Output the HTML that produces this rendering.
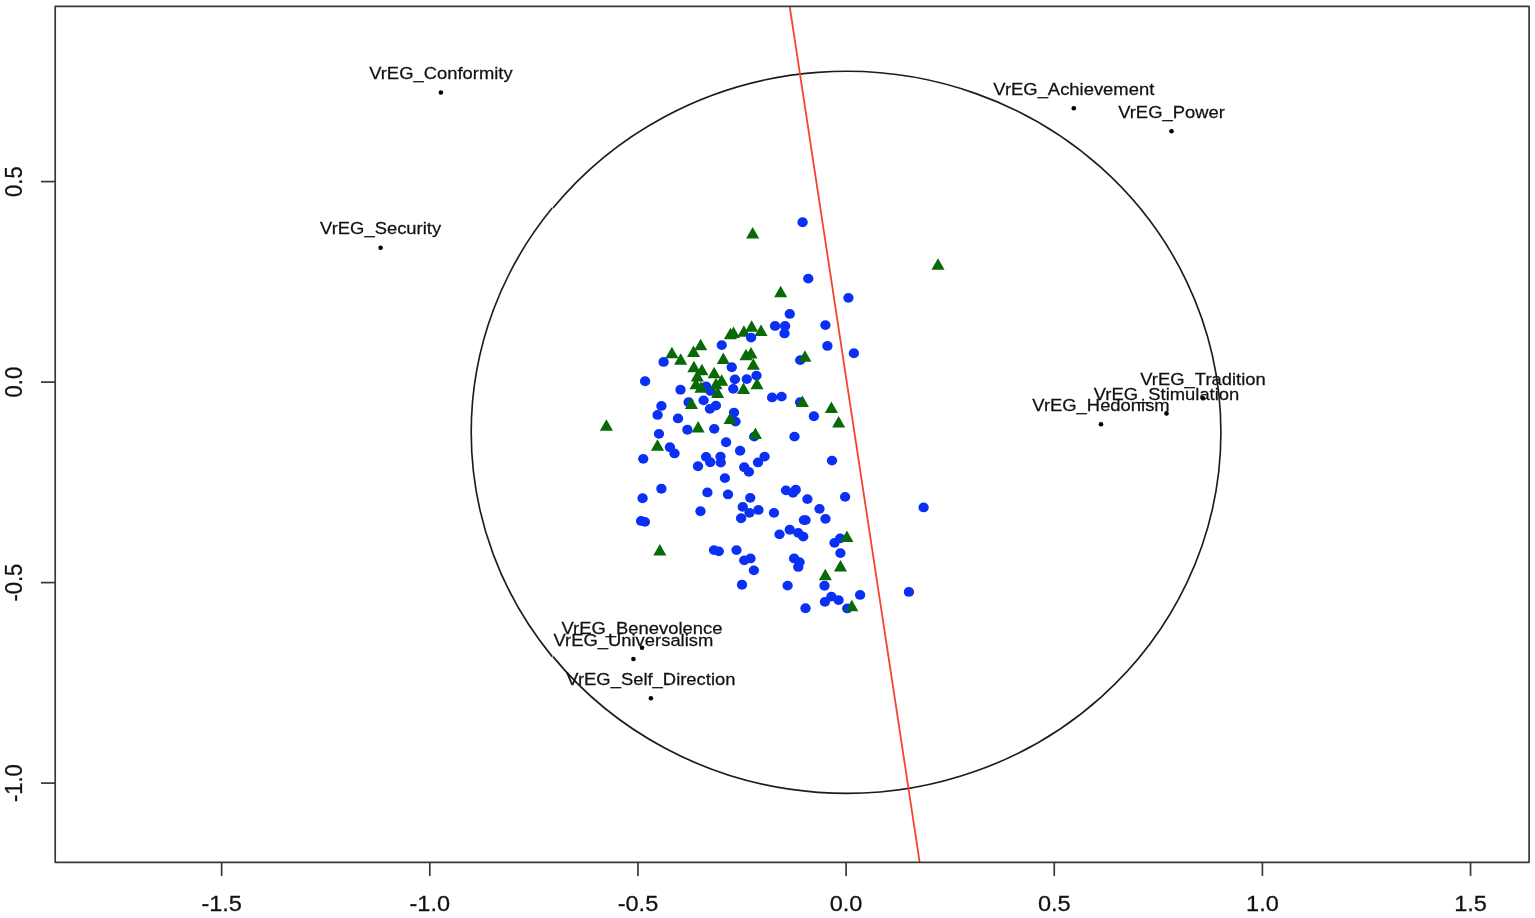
<!DOCTYPE html>
<html lang="en"><head><meta charset="utf-8"><title>Plot</title>
<style>html,body{margin:0;padding:0;background:#fff}svg{display:block}text{font-family:"Liberation Sans",Arial,Helvetica,sans-serif;fill:#111;stroke:#111;stroke-width:.25px}</style></head><body>
<svg width="1535" height="918" viewBox="0 0 1535 918">
<rect x="0" y="0" width="1535" height="918" fill="#fff"/>
<path d="M553 208.09A374.45 361.05 0 1 1 553 656.61" fill="none" stroke="#1c1c1c" stroke-width="1.65"/>
<path d="M552.2 656.61A374.45 361.05 0 0 1 552.2 208.09" fill="none" stroke="#1c1c1c" stroke-width="1.65"/>
<line x1="789.7" y1="6.3" x2="919.7" y2="862.3" stroke="#f4442e" stroke-width="1.8"/>
<g fill="#0a30f6">
<ellipse cx="802.6" cy="222.25" rx="5.15" ry="4.9"/>
<ellipse cx="808.25" cy="278.6" rx="5.15" ry="4.9"/>
<ellipse cx="848.4" cy="297.85" rx="5.15" ry="4.9"/>
<ellipse cx="789.75" cy="313.95000000000005" rx="5.15" ry="4.9"/>
<ellipse cx="775.1" cy="325.95000000000005" rx="5.15" ry="4.9"/>
<ellipse cx="721.75" cy="345.1" rx="5.15" ry="4.9"/>
<ellipse cx="663.6" cy="361.95000000000005" rx="5.15" ry="4.9"/>
<ellipse cx="731.75" cy="367.25" rx="5.15" ry="4.9"/>
<ellipse cx="645.1" cy="381.25" rx="5.15" ry="4.9"/>
<ellipse cx="734.9" cy="379.35" rx="5.15" ry="4.9"/>
<ellipse cx="746.75" cy="379.1" rx="5.15" ry="4.9"/>
<ellipse cx="756.5" cy="375.6" rx="5.15" ry="4.9"/>
<ellipse cx="733.25" cy="388.85" rx="5.15" ry="4.9"/>
<ellipse cx="680.5" cy="389.75" rx="5.15" ry="4.9"/>
<ellipse cx="706.1" cy="386.35" rx="5.15" ry="4.9"/>
<ellipse cx="710.5" cy="390.95000000000005" rx="5.15" ry="4.9"/>
<ellipse cx="703.6" cy="400.35" rx="5.15" ry="4.9"/>
<ellipse cx="688.6" cy="402.25" rx="5.15" ry="4.9"/>
<ellipse cx="715.9" cy="405.6" rx="5.15" ry="4.9"/>
<ellipse cx="709.9" cy="408.85" rx="5.15" ry="4.9"/>
<ellipse cx="661.4" cy="405.95000000000005" rx="5.15" ry="4.9"/>
<ellipse cx="657.6" cy="414.95000000000005" rx="5.15" ry="4.9"/>
<ellipse cx="678.0" cy="418.45000000000005" rx="5.15" ry="4.9"/>
<ellipse cx="734.0" cy="412.6" rx="5.15" ry="4.9"/>
<ellipse cx="735.5" cy="421.6" rx="5.15" ry="4.9"/>
<ellipse cx="772.1" cy="397.45000000000005" rx="5.15" ry="4.9"/>
<ellipse cx="687.4" cy="429.75" rx="5.15" ry="4.9"/>
<ellipse cx="714.25" cy="428.85" rx="5.15" ry="4.9"/>
<ellipse cx="659.0" cy="433.85" rx="5.15" ry="4.9"/>
<ellipse cx="785.1" cy="325.95000000000005" rx="5.15" ry="4.9"/>
<ellipse cx="784.5" cy="333.45000000000005" rx="5.15" ry="4.9"/>
<ellipse cx="825.4" cy="325.1" rx="5.15" ry="4.9"/>
<ellipse cx="827.4" cy="345.95000000000005" rx="5.15" ry="4.9"/>
<ellipse cx="853.9" cy="353.25" rx="5.15" ry="4.9"/>
<ellipse cx="800.2" cy="360.15000000000003" rx="5.15" ry="4.9"/>
<ellipse cx="781.6" cy="396.6" rx="5.15" ry="4.9"/>
<ellipse cx="800.1" cy="402.25" rx="5.15" ry="4.9"/>
<ellipse cx="813.9" cy="416.25" rx="5.15" ry="4.9"/>
<ellipse cx="754.25" cy="436.6" rx="5.15" ry="4.9"/>
<ellipse cx="726.1" cy="442.25" rx="5.15" ry="4.9"/>
<ellipse cx="669.9" cy="447.25" rx="5.15" ry="4.9"/>
<ellipse cx="674.5" cy="453.45000000000005" rx="5.15" ry="4.9"/>
<ellipse cx="740.1" cy="450.75" rx="5.15" ry="4.9"/>
<ellipse cx="643.25" cy="458.85" rx="5.15" ry="4.9"/>
<ellipse cx="706.1" cy="456.85" rx="5.15" ry="4.9"/>
<ellipse cx="710.25" cy="462.25" rx="5.15" ry="4.9"/>
<ellipse cx="720.5" cy="456.6" rx="5.15" ry="4.9"/>
<ellipse cx="720.75" cy="462.6" rx="5.15" ry="4.9"/>
<ellipse cx="698.0" cy="466.25" rx="5.15" ry="4.9"/>
<ellipse cx="764.6" cy="456.6" rx="5.15" ry="4.9"/>
<ellipse cx="758.0" cy="462.45000000000005" rx="5.15" ry="4.9"/>
<ellipse cx="744.25" cy="467.25" rx="5.15" ry="4.9"/>
<ellipse cx="748.9" cy="471.85" rx="5.15" ry="4.9"/>
<ellipse cx="724.9" cy="478.1" rx="5.15" ry="4.9"/>
<ellipse cx="661.4" cy="488.75" rx="5.15" ry="4.9"/>
<ellipse cx="642.6" cy="498.25" rx="5.15" ry="4.9"/>
<ellipse cx="707.4" cy="492.45000000000005" rx="5.15" ry="4.9"/>
<ellipse cx="728.0" cy="494.45000000000005" rx="5.15" ry="4.9"/>
<ellipse cx="750.25" cy="497.85" rx="5.15" ry="4.9"/>
<ellipse cx="742.75" cy="506.85" rx="5.15" ry="4.9"/>
<ellipse cx="749.5" cy="512.85" rx="5.15" ry="4.9"/>
<ellipse cx="758.4" cy="509.95000000000005" rx="5.15" ry="4.9"/>
<ellipse cx="774.0" cy="512.85" rx="5.15" ry="4.9"/>
<ellipse cx="741.1" cy="518.25" rx="5.15" ry="4.9"/>
<ellipse cx="700.5" cy="511.25" rx="5.15" ry="4.9"/>
<ellipse cx="641.1" cy="520.95" rx="5.15" ry="4.9"/>
<ellipse cx="644.9" cy="521.85" rx="5.15" ry="4.9"/>
<ellipse cx="779.5" cy="534.35" rx="5.15" ry="4.9"/>
<ellipse cx="794.5" cy="436.6" rx="5.15" ry="4.9"/>
<ellipse cx="832" cy="460.6" rx="5.15" ry="4.9"/>
<ellipse cx="786" cy="490.35" rx="5.15" ry="4.9"/>
<ellipse cx="795.75" cy="489.75" rx="5.15" ry="4.9"/>
<ellipse cx="793" cy="492.85" rx="5.15" ry="4.9"/>
<ellipse cx="807.4" cy="499.1" rx="5.15" ry="4.9"/>
<ellipse cx="845.1" cy="496.85" rx="5.15" ry="4.9"/>
<ellipse cx="819.5" cy="508.85" rx="5.15" ry="4.9"/>
<ellipse cx="825.5" cy="518.85" rx="5.15" ry="4.9"/>
<ellipse cx="803.9" cy="520.1" rx="5.15" ry="4.9"/>
<ellipse cx="805.6" cy="520.1" rx="5.15" ry="4.9"/>
<ellipse cx="923.6" cy="507.45000000000005" rx="5.15" ry="4.9"/>
<ellipse cx="789.75" cy="529.75" rx="5.15" ry="4.9"/>
<ellipse cx="798.25" cy="532.85" rx="5.15" ry="4.9"/>
<ellipse cx="803.25" cy="536.6" rx="5.15" ry="4.9"/>
<ellipse cx="840.1" cy="538.45" rx="5.15" ry="4.9"/>
<ellipse cx="834.5" cy="542.85" rx="5.15" ry="4.9"/>
<ellipse cx="714.0" cy="550.1" rx="5.15" ry="4.9"/>
<ellipse cx="718.8" cy="551.35" rx="5.15" ry="4.9"/>
<ellipse cx="736.5" cy="550.1" rx="5.15" ry="4.9"/>
<ellipse cx="744.25" cy="560.35" rx="5.15" ry="4.9"/>
<ellipse cx="750.5" cy="558.45" rx="5.15" ry="4.9"/>
<ellipse cx="753.9" cy="570.35" rx="5.15" ry="4.9"/>
<ellipse cx="742.0" cy="584.75" rx="5.15" ry="4.9"/>
<ellipse cx="840.4" cy="553.1" rx="5.15" ry="4.9"/>
<ellipse cx="794.1" cy="558.45" rx="5.15" ry="4.9"/>
<ellipse cx="799.5" cy="562.25" rx="5.15" ry="4.9"/>
<ellipse cx="798.25" cy="566.95" rx="5.15" ry="4.9"/>
<ellipse cx="787.6" cy="585.6" rx="5.15" ry="4.9"/>
<ellipse cx="824.5" cy="585.75" rx="5.15" ry="4.9"/>
<ellipse cx="831.4" cy="596.6" rx="5.15" ry="4.9"/>
<ellipse cx="824.9" cy="601.85" rx="5.15" ry="4.9"/>
<ellipse cx="838.6" cy="600.1" rx="5.15" ry="4.9"/>
<ellipse cx="860.1" cy="594.95" rx="5.15" ry="4.9"/>
<ellipse cx="805.5" cy="608.25" rx="5.15" ry="4.9"/>
<ellipse cx="847.25" cy="608.45" rx="5.15" ry="4.9"/>
<ellipse cx="908.9" cy="591.95" rx="5.15" ry="4.9"/>
</g>
<g fill="#076a06">
<polygon points="752.65,227.05 746.10,238.55 759.20,238.55"/>
<polygon points="938.00,258.35 931.45,269.85 944.55,269.85"/>
<polygon points="780.65,285.85 774.10,297.35 787.20,297.35"/>
<polygon points="606.40,419.25 599.85,430.75 612.95,430.75"/>
<polygon points="671.90,346.85 665.35,358.35 678.45,358.35"/>
<polygon points="680.65,353.35 674.10,364.85 687.20,364.85"/>
<polygon points="693.50,345.55 686.95,357.05 700.05,357.05"/>
<polygon points="700.65,338.70 694.10,350.20 707.20,350.20"/>
<polygon points="730.40,327.70 723.85,339.20 736.95,339.20"/>
<polygon points="733.50,326.45 726.95,337.95 740.05,337.95"/>
<polygon points="743.90,325.20 737.35,336.70 750.45,336.70"/>
<polygon points="751.65,320.20 745.10,331.70 758.20,331.70"/>
<polygon points="761.00,324.55 754.45,336.05 767.55,336.05"/>
<polygon points="723.30,352.45 716.75,363.95 729.85,363.95"/>
<polygon points="746.00,348.70 739.45,360.20 752.55,360.20"/>
<polygon points="751.00,347.05 744.45,358.55 757.55,358.55"/>
<polygon points="753.30,358.35 746.75,369.85 759.85,369.85"/>
<polygon points="693.90,360.85 687.35,372.35 700.45,372.35"/>
<polygon points="701.90,363.70 695.35,375.20 708.45,375.20"/>
<polygon points="714.15,366.85 707.60,378.35 720.70,378.35"/>
<polygon points="697.30,369.95 690.75,381.45 703.85,381.45"/>
<polygon points="721.65,374.35 715.10,385.85 728.20,385.85"/>
<polygon points="716.00,377.70 709.45,389.20 722.55,389.20"/>
<polygon points="696.00,377.70 689.45,389.20 702.55,389.20"/>
<polygon points="701.00,381.20 694.45,392.70 707.55,392.70"/>
<polygon points="717.65,386.45 711.10,397.95 724.20,397.95"/>
<polygon points="743.50,382.45 736.95,393.95 750.05,393.95"/>
<polygon points="757.00,377.70 750.45,389.20 763.55,389.20"/>
<polygon points="691.40,397.45 684.85,408.95 697.95,408.95"/>
<polygon points="730.15,412.45 723.60,423.95 736.70,423.95"/>
<polygon points="698.15,420.95 691.60,432.45 704.70,432.45"/>
<polygon points="755.40,427.55 748.85,439.05 761.95,439.05"/>
<polygon points="804.90,350.20 798.35,361.70 811.45,361.70"/>
<polygon points="802.40,395.45 795.85,406.95 808.95,406.95"/>
<polygon points="831.40,401.45 824.85,412.95 837.95,412.95"/>
<polygon points="838.65,416.05 832.10,427.55 845.20,427.55"/>
<polygon points="657.50,439.20 650.95,450.70 664.05,450.70"/>
<polygon points="846.90,530.45 840.35,541.95 853.45,541.95"/>
<polygon points="659.80,543.95 653.25,555.45 666.35,555.45"/>
<polygon points="840.50,559.95 833.95,571.45 847.05,571.45"/>
<polygon points="825.30,568.70 818.75,580.20 831.85,580.20"/>
<polygon points="851.80,599.85 845.25,611.35 858.35,611.35"/>
</g>
<g fill="#0a30f6">
<ellipse cx="751.1" cy="337.6" rx="5.15" ry="4.9"/>
</g>
<g font-size="17.4" text-anchor="middle">
<circle cx="440.9" cy="92.5" r="2.3" fill="#000"/>
<text transform="translate(440.9,79.20) scale(1.058,1)" x="0" y="0">VrEG_Conformity</text>
<circle cx="380.6" cy="247.75" r="2.3" fill="#000"/>
<text transform="translate(380.6,234.45) scale(1.058,1)" x="0" y="0">VrEG_Security</text>
<circle cx="1073.8" cy="108.2" r="2.3" fill="#000"/>
<text transform="translate(1073.8,94.90) scale(1.058,1)" x="0" y="0">VrEG_Achievement</text>
<circle cx="1171.5" cy="131.3" r="2.3" fill="#000"/>
<text transform="translate(1171.5,118.00) scale(1.058,1)" x="0" y="0">VrEG_Power</text>
<circle cx="1203.0" cy="398.3" r="2.3" fill="#000"/>
<text transform="translate(1203.0,385.00) scale(1.058,1)" x="0" y="0">VrEG_Tradition</text>
<circle cx="1166.5" cy="413.4" r="2.3" fill="#000"/>
<text transform="translate(1166.5,400.10) scale(1.058,1)" x="0" y="0">VrEG_Stimulation</text>
<circle cx="1101.0" cy="424.2" r="2.3" fill="#000"/>
<text transform="translate(1101.0,410.90) scale(1.058,1)" x="0" y="0">VrEG_Hedonism</text>
<circle cx="642" cy="647.7" r="2.3" fill="#000"/>
<text transform="translate(642,634.40) scale(1.058,1)" x="0" y="0">VrEG_Benevolence</text>
<circle cx="633.4" cy="659.0" r="2.3" fill="#000"/>
<text transform="translate(633.4,645.70) scale(1.058,1)" x="0" y="0">VrEG_Universalism</text>
<circle cx="650.9" cy="698.3" r="2.3" fill="#000"/>
<text transform="translate(650.9,685.00) scale(1.058,1)" x="0" y="0">VrEG_Self_Direction</text>
</g>
<rect x="55.2" y="6.3" width="1473.90" height="856.00" fill="none" stroke="#383838" stroke-width="1.7" stroke-linejoin="round"/>
<g stroke="#383838" stroke-width="1.7">
<line x1="221.65" y1="862.3" x2="221.65" y2="875.9"/>
<line x1="429.80" y1="862.3" x2="429.80" y2="875.9"/>
<line x1="637.95" y1="862.3" x2="637.95" y2="875.9"/>
<line x1="846.10" y1="862.3" x2="846.10" y2="875.9"/>
<line x1="1054.25" y1="862.3" x2="1054.25" y2="875.9"/>
<line x1="1262.40" y1="862.3" x2="1262.40" y2="875.9"/>
<line x1="1470.55" y1="862.3" x2="1470.55" y2="875.9"/>
<line x1="55.2" y1="181.60" x2="41.0" y2="181.60"/>
<line x1="55.2" y1="382.10" x2="41.0" y2="382.10"/>
<line x1="55.2" y1="582.60" x2="41.0" y2="582.60"/>
<line x1="55.2" y1="783.10" x2="41.0" y2="783.10"/>
</g>
<g font-size="22" text-anchor="middle">
<text transform="translate(221.65,910.6) scale(1.07,1)">-1.5</text>
<text transform="translate(429.80,910.6) scale(1.07,1)">-1.0</text>
<text transform="translate(637.95,910.6) scale(1.07,1)">-0.5</text>
<text transform="translate(846.10,910.6) scale(1.07,1)">0.0</text>
<text transform="translate(1054.25,910.6) scale(1.07,1)">0.5</text>
<text transform="translate(1262.40,910.6) scale(1.07,1)">1.0</text>
<text transform="translate(1470.55,910.6) scale(1.07,1)">1.5</text>
<text transform="translate(22.0,181.60) scale(1.07,1) rotate(-90)">0.5</text>
<text transform="translate(22.0,382.10) scale(1.07,1) rotate(-90)">0.0</text>
<text transform="translate(22.0,582.60) scale(1.07,1) rotate(-90)">-0.5</text>
<text transform="translate(22.0,783.10) scale(1.07,1) rotate(-90)">-1.0</text>
</g>
</svg></body></html>
